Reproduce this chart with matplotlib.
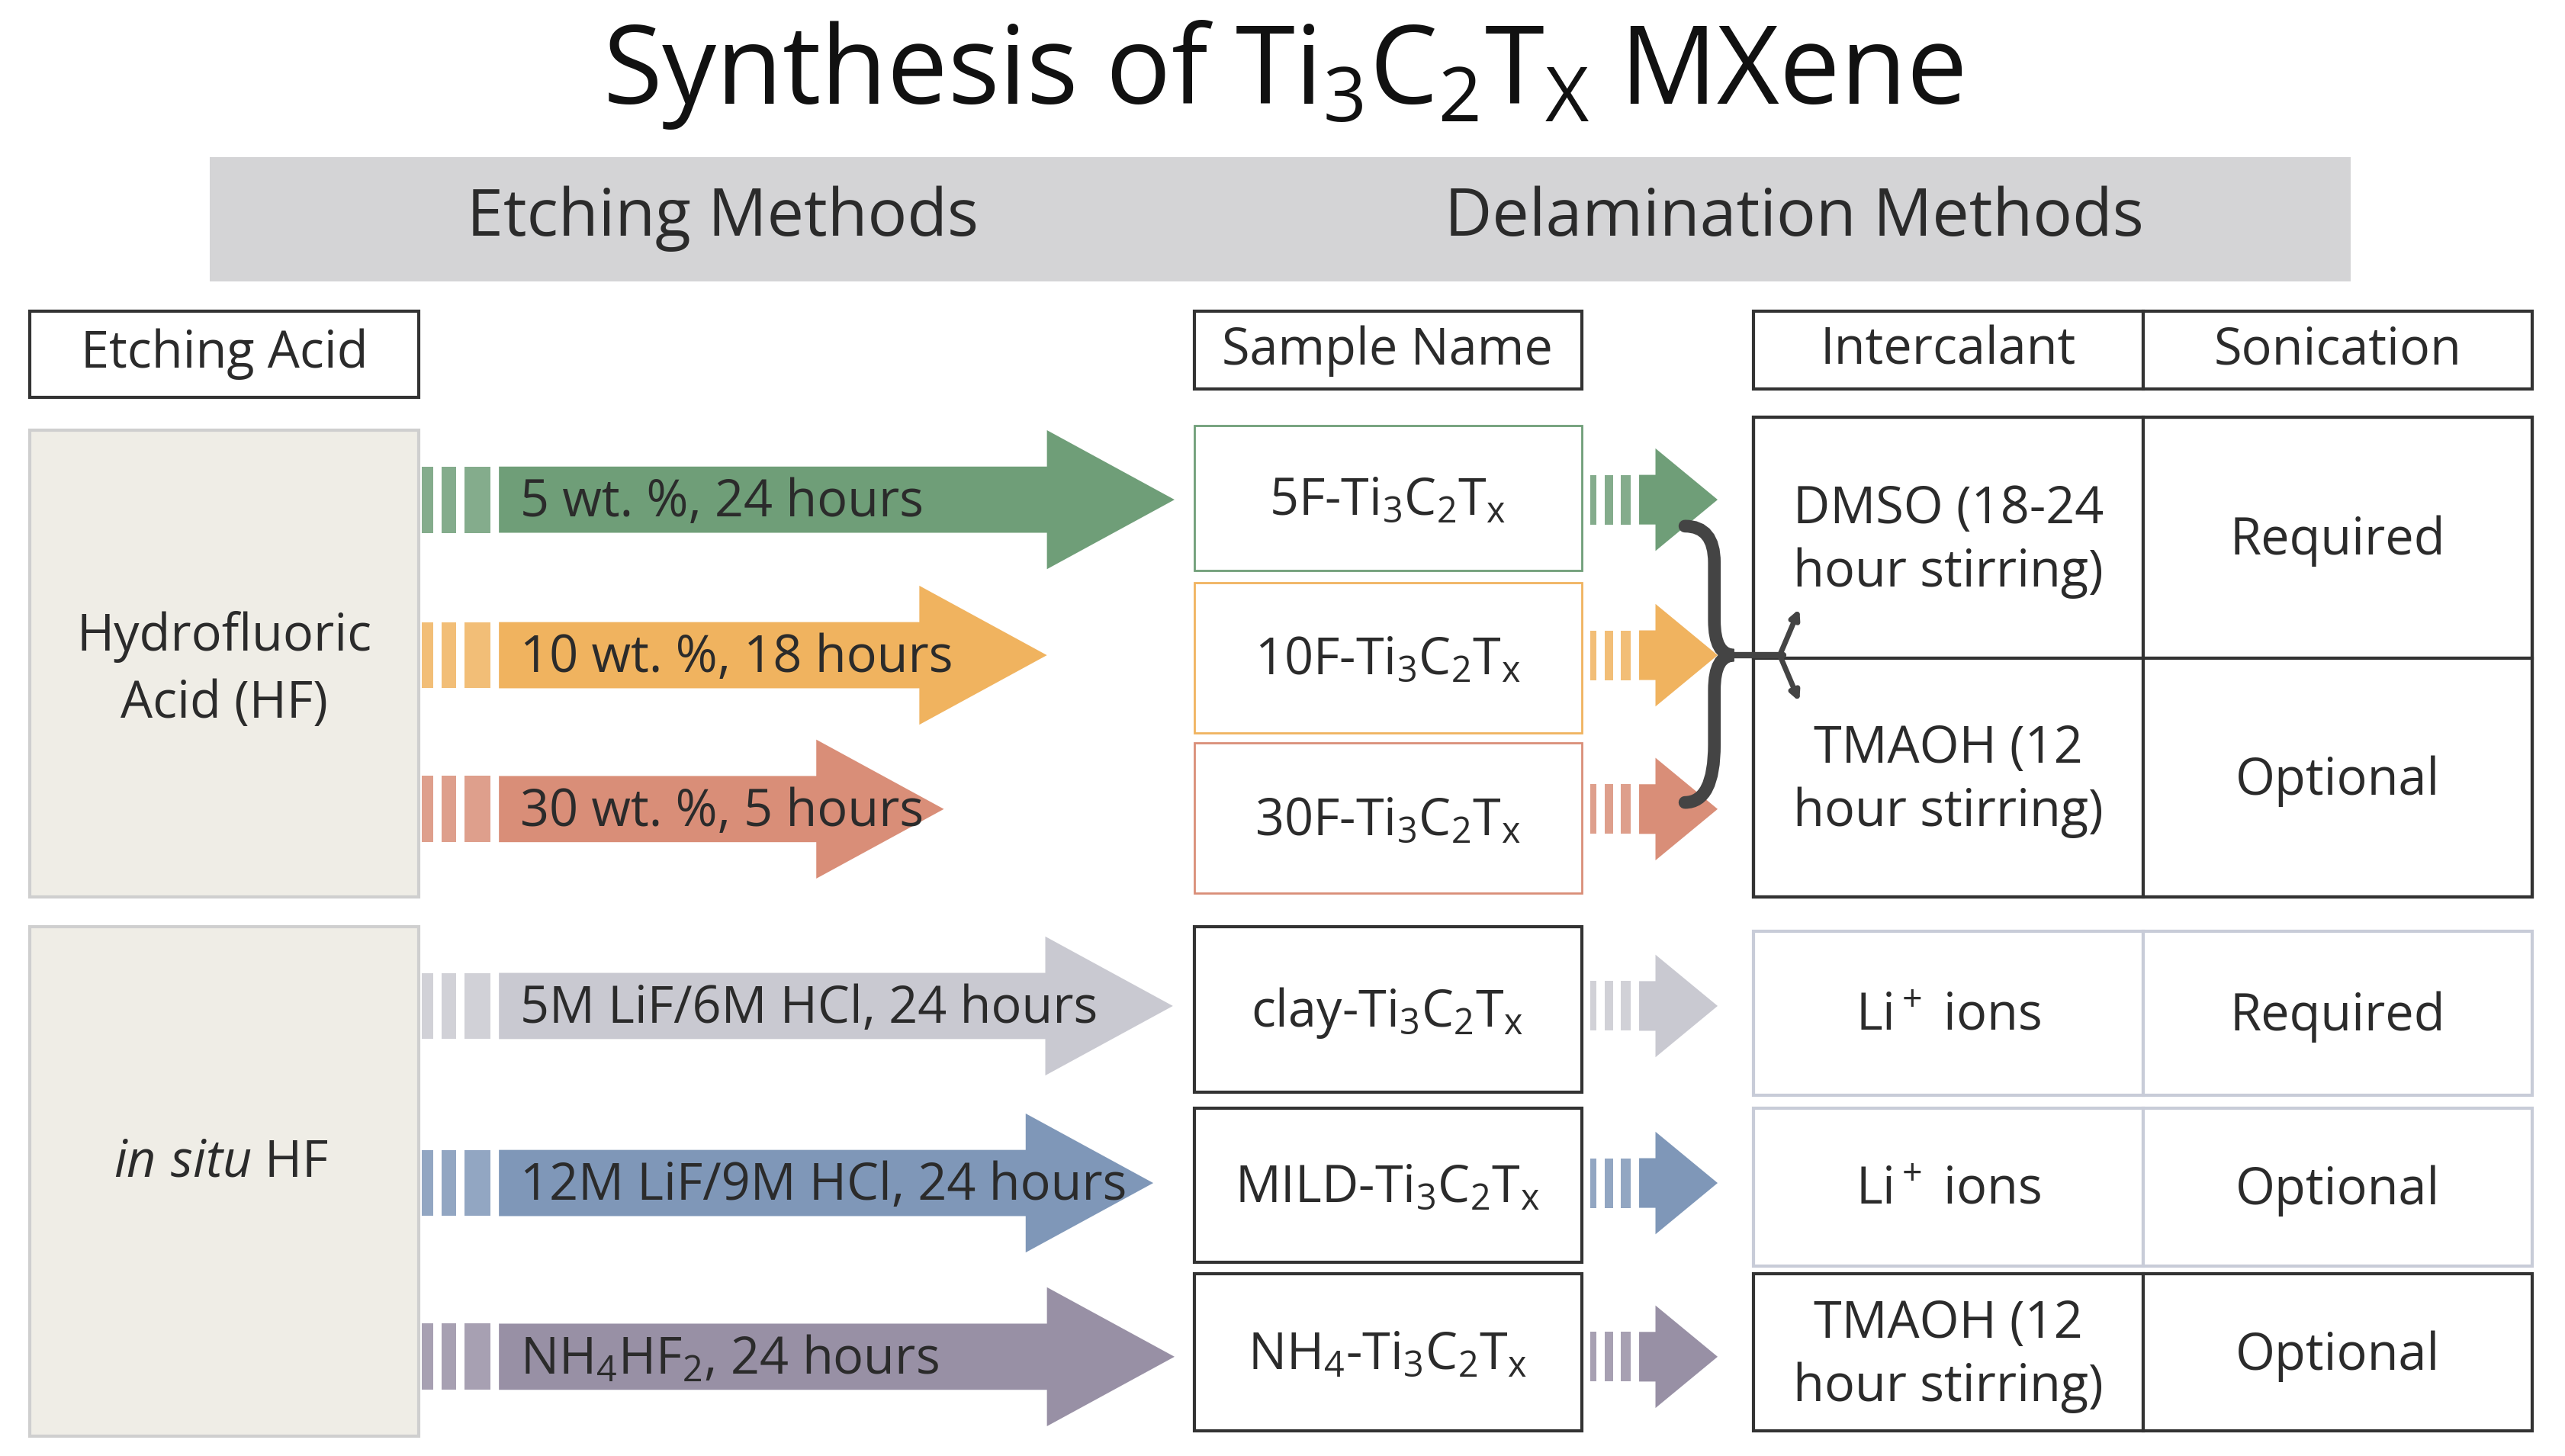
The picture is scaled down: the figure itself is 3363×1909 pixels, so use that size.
import matplotlib
matplotlib.use("Agg")
import matplotlib.pyplot as plt
from matplotlib.patches import Rectangle, Polygon
from matplotlib.path import Path
from matplotlib.patches import PathPatch

plt.rcParams['font.family'] = ['Open Sans', 'DejaVu Sans']
plt.rcParams['mathtext.fontset'] = 'custom'
plt.rcParams['mathtext.rm'] = 'Open Sans'
plt.rcParams['mathtext.it'] = 'Open Sans:italic'

title = r"Synthesis of Ti$_3$C$_2$T$_\mathrm{X}$ MXene"
banner = ["Etching Methods", "Delamination Methods"]
acids = ["Hydrofluoric\nAcid (HF)", r"$\it{in\ situ}$ HF"]
conditions = ["5 wt. %, 24 hours", "10 wt. %, 18 hours", "30 wt. %, 5 hours",
              "5M LiF/6M HCl, 24 hours", "12M LiF/9M HCl, 24 hours", r"NH$_4$HF$_2$, 24 hours"]
samples = [r"5F-Ti$_3$C$_2$T$_\mathrm{x}$", r"10F-Ti$_3$C$_2$T$_\mathrm{x}$", r"30F-Ti$_3$C$_2$T$_\mathrm{x}$",
           r"clay-Ti$_3$C$_2$T$_\mathrm{x}$", r"MILD-Ti$_3$C$_2$T$_\mathrm{x}$", r"NH$_4$-Ti$_3$C$_2$T$_\mathrm{x}$"]
colors = ["#6f9e78", "#f0b35f", "#d98e78", "#c9c9d1", "#7f97b8", "#9890a5"]
intercalants = ["DMSO (18-24\nhour stirring)", "TMAOH (12\nhour stirring)", r"Li$^+$ ions", r"Li$^+$ ions", "TMAOH (12\nhour stirring)"]
sonication = ["Required", "Optional", "Required", "Optional", "Optional"]

fig = plt.figure(figsize=(33.63, 19.09), dpi=100)
ax = fig.add_axes([0, 0, 1, 1])
ax.set_xlim(0, 1568); ax.set_ylim(880, 0); ax.axis('off')
TC = "#2b2b2b"
FS = 48

ax.text(784, 45, title, ha='center', va='center', fontsize=102, color="#111", fontweight='medium')
ax.add_patch(Rectangle((128, 95), 1309, 75, fc="#d4d4d6", ec='none'))
ax.text(442, 132, banner[0], ha='center', va='center', fontsize=62, color=TC)
ax.text(1097, 132, banner[1], ha='center', va='center', fontsize=62, color=TC)

def box(x0, y0, x1, y1, ec="#333", fc="white", lw=3):
    ax.add_patch(Rectangle((x0, y0), x1 - x0, y1 - y0, fc=fc, ec=ec, lw=lw))

box(18, 188, 256, 240); ax.text(137, 214, "Etching Acid", ha='center', va='center', fontsize=FS, color=TC)
box(730, 188, 967, 235); ax.text(848, 212, "Sample Name", ha='center', va='center', fontsize=FS, color=TC)
box(1072, 188, 1310, 235); box(1310, 188, 1548, 235)
ax.text(1191, 212, "Intercalant", ha='center', va='center', fontsize=FS, color=TC)
ax.text(1429, 212, "Sonication", ha='center', va='center', fontsize=FS, color=TC)

box(18, 260, 256, 542, ec="#cfcfcf", fc="#efede6")
box(18, 560, 256, 868, ec="#cfcfcf", fc="#efede6")
ax.text(137, 405, acids[0], ha='center', va='center', fontsize=FS, color=TC, linespacing=1.4)
ax.text(135, 703, acids[1], ha='center', va='center', fontsize=FS, color=TC)

ys = [302, 396, 489, 608, 715, 820]
tips = [718, 640, 577, 717, 705, 718]
sample_boxes = [(257, 345), (352, 443), (449, 540), (560, 660), (670, 763), (770, 865)]

def arrow(y, x0, tip, c, sh, hh, hl, stripes):
    x = x0
    for w in stripes:
        ax.add_patch(Rectangle((x, y - sh / 2), w, sh, fc=c, ec='none', alpha=0.85))
        x += w + 5
    hs = tip - hl
    ax.add_patch(Polygon([(x, y - sh / 2), (hs, y - sh / 2), (hs, y - hh / 2), (tip, y),
                          (hs, y + hh / 2), (hs, y + sh / 2), (x, y + sh / 2)], closed=True, fc=c, ec='none'))

for i, y in enumerate(ys):
    c = colors[i]
    arrow(y, 258, tips[i], c, 40, 84, 78, [7, 9, 16])
    ax.text(318, y + 2, conditions[i], ha='left', va='center', fontsize=FS, color=TC, zorder=5)
    y0, y1 = sample_boxes[i]
    box(730, y0, 967, y1, ec=(c if i < 3 else "#333"), lw=(2 if i < 3 else 3))
    ax.text(848, (y0 + y1) / 2 + 2, samples[i], ha='center', va='center', fontsize=FS, color=TC)
    arrow(y, 972, 1050, c, 30, 62, 38, [4, 5, 6])

# bracket connector
verts = [(1030, 318), (1048, 318), (1048, 340), (1048, 375), (1048, 396), (1060, 396),
         (1048, 396), (1048, 417), (1048, 450), (1048, 485), (1030, 485)]
codes = [Path.MOVETO, Path.CURVE3, Path.CURVE3, Path.LINETO, Path.CURVE3, Path.CURVE3,
         Path.CURVE3, Path.CURVE3, Path.LINETO, Path.CURVE3, Path.CURVE3]
ax.add_patch(PathPatch(Path(verts, codes), fc='none', ec="#444", lw=12, capstyle='round'))
ax.plot([1055, 1090], [396, 396], color="#444", lw=6, solid_capstyle='round')
for yt in (368, 424):
    ax.annotate("", xy=(1100, yt), xytext=(1088, 396),
                arrowprops=dict(arrowstyle="-|>,head_length=0.7,head_width=0.35", color="#444", lw=5,
                                shrinkA=0, shrinkB=0))

# right table
rows = [(252, 398), (398, 542), (563, 662), (670, 765), (770, 865)]
for j, (y0, y1) in enumerate(rows):
    ec = "#333" if j in (0, 1, 4) else "#c8ccd8"
    box(1072, y0, 1310, y1, ec=ec); box(1310, y0, 1548, y1, ec=ec)
    ym = (y0 + y1) / 2
    ax.text(1191, ym + 2, intercalants[j], ha='center', va='center', fontsize=FS, color=TC, linespacing=1.3)
    ax.text(1429, ym + 2, sonication[j], ha='center', va='center', fontsize=FS, color=TC)
box(1072, 252, 1548, 542, ec="#333", fc='none')

fig.savefig("out.png", dpi=100)
